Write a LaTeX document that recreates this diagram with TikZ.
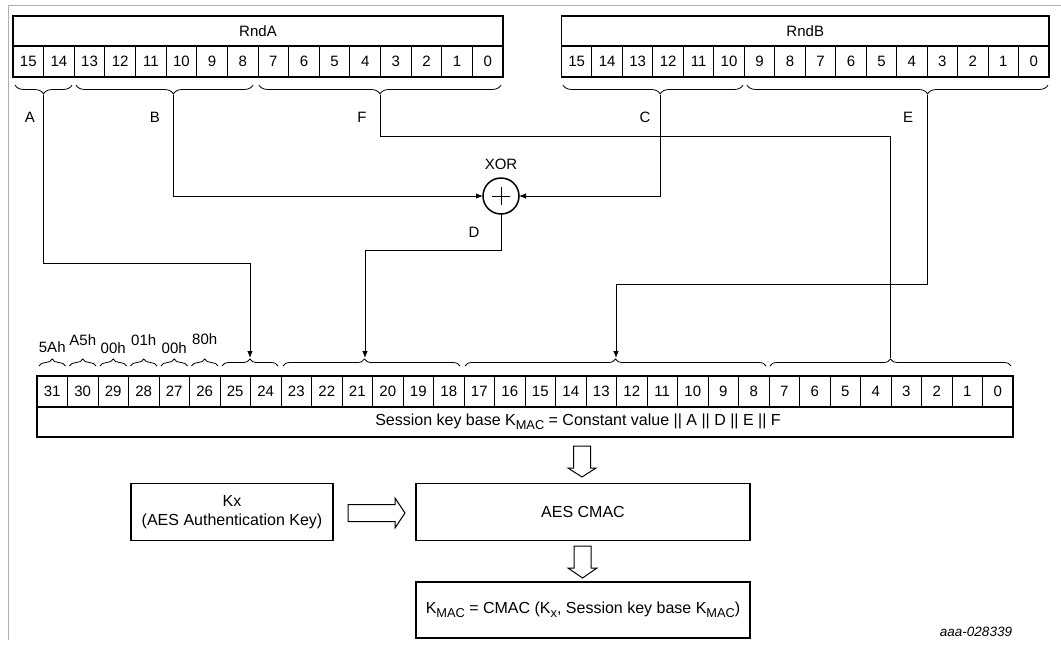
\documentclass[tikz,border=0pt]{standalone}
\usepackage{fontspec}
\setmainfont{Liberation Sans}
\usetikzlibrary{arrows.meta,decorations.pathreplacing,calc}
\newcommand{\lsub}[1]{\raisebox{-3.8pt}{\fontsize{12.8}{14}\selectfont #1}}
\begin{document}
\begin{tikzpicture}[x=1pt,y=-1pt,
  every node/.style={font=\fontsize{15}{17}\selectfont, inner sep=0pt, outer sep=0pt},
  cellst/.style={draw, line width=1pt, minimum height=31pt},
  boxst/.style={draw, line width=1.3pt},
  bigtext/.style={font=\fontsize{16}{19}\selectfont},
  frame/.style={line width=1.4pt},
  conn/.style={line width=0.8pt},
  arr/.style={conn, -{Latex[length=7pt,width=5.5pt]}},
  bracetop/.style={decorate, decoration={brace, mirror, amplitude=9pt, aspect=#1}, line width=0.8pt},
  bracetop/.default=0.5,
  bracebot/.style={decorate, decoration={brace, amplitude=7pt, aspect=#1}, line width=0.8pt},
  bracebot/.default=0.5,
  hollow/.style={draw, line width=1pt, fill=white},
  lbl/.style={font=\fontsize{15}{17}\selectfont}
]
\useasboundingbox (0,0) rectangle (1061,646);
\definecolor{framepurple}{RGB}{185,165,210}
\draw[framepurple, line width=1pt] (8,640) -- (8,5) -- (1061,5);

% ---------- RndA ----------
\node[boxst, minimum width=490pt, minimum height=30pt] (rndA) at (258,31) {RndA};
\foreach \i in {0,...,15} {
  \node[cellst, minimum width=30.625pt] (a\i) at ({13+30.625*(15-\i)+15.3125},61.5) {\i};
}
\draw[frame] (rndA.north west) rectangle (a0.south east);

% ---------- RndB ----------
\node[boxst, minimum width=487.5pt, minimum height=30pt] (rndB) at (805.25,31) {RndB};
\foreach \i in {0,...,15} {
  \node[cellst, minimum width=30.47pt] (b\i) at ({561.5+30.47*(15-\i)+15.235},61.5) {\i};
}
\draw[frame] (rndB.north west) rectangle (b0.south east);

% ---------- top braces ----------
\draw[bracetop] (15,85) -- (72,85);
\draw[bracetop=0.55] (76,85) -- (253,85);
\draw[bracetop] (259,85) -- (501,85);
\draw[bracetop=0.54] (563,85) -- (743,85);
\draw[bracetop=0.6] (747,85) -- (1048,85);
\coordinate (tA) at (43.6,95);
\coordinate (tB) at (173,95);
\coordinate (tF) at (380,95);
\coordinate (tC) at (660.7,95);
\coordinate (tE) at (927.7,95);

\node[lbl] (lA) at (30,117) {A};
\node[lbl] (lB) at (155,117) {B};
\node[lbl] (lF) at (362,117) {F};
\node[lbl] (lC) at (645,117) {C};
\node[lbl] (lE) at (908,117) {E};

% ---------- XOR ----------
\node[draw, circle, line width=1.5pt, minimum size=36pt] (xor) at (501,196) {};
\draw[line width=0.8pt] ($(xor.center)+(-9,0)$) -- ($(xor.center)+(9,0)$)
      ($(xor.center)+(0,-9)$) -- ($(xor.center)+(0,9)$);
\node[lbl] (lxor) at (501,164) {XOR};
\node[lbl] (lD) at (474,232) {D};

% ---------- Session key base ----------
\node[boxst, minimum width=976pt, minimum height=30pt] (sess) at (525,422) {};
\node[bigtext] (sesstext) at (578,422)
  {Session key base K\lsub{MAC} = Constant value || A || D || E || F};
\foreach \i in {0,...,31} {
  \node[cellst, minimum width=30.5pt] (k\i) at ({37+30.5*(31-\i)+15.25},391.5) {\i};
}
\draw[frame] (k31.north west) rectangle (sess.south east);

% ---------- bottom braces ----------
\foreach \c in {31,30,29,28,27,26} {
  \draw[bracebot] ($(k\c.north west)+(2,-10)$) -- ($(k\c.north east)+(-2,-10)$);
}
\node[lbl] (c31) at ($(k31.north)+(0,-29)$) {5Ah};
\node[lbl] (c30) at ($(k30.north)+(0,-36)$) {A5h};
\node[lbl] (c29) at ($(k29.north)+(0,-28)$) {00h};
\node[lbl] (c28) at ($(k28.north)+(0,-36)$) {01h};
\node[lbl] (c27) at ($(k27.north)+(0,-28)$) {00h};
\node[lbl] (c26) at ($(k26.north)+(0,-37)$) {80h};
\draw[bracebot] (222,366) -- (278,366);
\draw[bracebot=0.46] (283,366) -- (460,366);
\draw[bracebot] (465,366) -- (766,366);
\draw[bracebot] (770,366) -- (1011,366);
\coordinate (bA) at (250,358);
\coordinate (bD) at (365,358);
\coordinate (bE) at (616,358);
\coordinate (bF) at (890,358);

% ---------- connectors ----------
\coordinate (kA) at (250,263);
\coordinate (kD) at (365,250);
\coordinate (kE) at (616,284);
\coordinate (kF) at (890,136);
\draw[arr] (tA) |- (kA) -- (bA);
\draw[arr] (tB) |- (xor.west);
\draw[arr] (tC) |- (xor.east);
\draw[arr] (xor.south) |- (kD) -- (bD);
\draw[arr] (tE) |- (kE) -- (bE);
\draw[conn] (tF) |- (kF) -- (bF);

% ---------- lower boxes ----------
\node[boxst, bigtext, minimum width=202pt, minimum height=57pt, align=center] (kx) at (232,512)
  {Kx\\(AES Authentication Key)};
\node[boxst, bigtext, minimum width=334pt, minimum height=57pt] (aes) at (583,512) {AES CMAC};
\node[boxst, bigtext, minimum width=334pt, minimum height=56pt] (kmac) at (583,610)
  {K\lsub{MAC} = CMAC (K\lsub{x}, Session key base K\lsub{MAC})};

% hollow arrows
\draw[hollow] (573.5,446) -- (590.5,446) -- (590.5,468) -- (596,468) -- (582,477)
  -- (568,468) -- (573.5,468) -- cycle;
\draw[hollow] (574,546) -- (591,546) -- (591,568) -- (597,568) -- (582.5,578)
  -- (568,568) -- (574,568) -- cycle;
\draw[hollow] (348,504.5) -- (395,504.5) -- (395,498) -- (405,513) -- (395,528)
  -- (395,521.5) -- (348,521.5) -- cycle;

\node[font=\fontsize{13.5}{15}\selectfont\itshape] (code) at (976,632) {aaa-028339};
\end{tikzpicture}
\end{document}
